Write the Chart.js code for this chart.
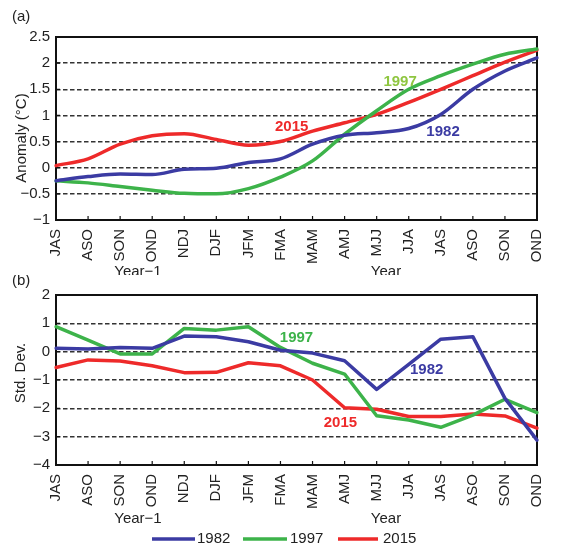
<!DOCTYPE html>
<html>
<head>
<meta charset="utf-8">
<script src="https://cdn.jsdelivr.net/npm/chart.js@4.4.1/dist/chart.umd.min.js"></script>
<style>
  html, body { margin: 0; padding: 0; background: #ffffff; }
  #wrap { position: relative; width: 564px; height: 548px; }
  #wrap canvas { position: absolute; left: 0; }
  #anom { top: 0; }
  #sdev { top: 275px; }
</style>
</head>
<body>
<div id="wrap">
  <canvas id="anom" width="564" height="275"></canvas>
  <canvas id="sdev" width="564" height="273"></canvas>
</div>
<script>
// Three-month running seasons, from the year before the event to the event year
const seasons = ['JAS', 'ASO', 'SON', 'OND', 'NDJ', 'DJF', 'JFM', 'FMA', 'MAM', 'AMJ', 'MJJ', 'JJA', 'JAS', 'ASO', 'SON', 'OND'];

// (a) Niño-3.4 SST anomaly (°C)
const anomaly1982 = [-0.25, -0.17, -0.12, -0.13, -0.03, -0.01, 0.10, 0.17, 0.45, 0.62, 0.67, 0.75, 1.02, 1.50, 1.85, 2.10];
const anomaly1997 = [-0.25, -0.29, -0.36, -0.43, -0.49, -0.50, -0.40, -0.18, 0.13, 0.64, 1.09, 1.50, 1.76, 1.98, 2.17, 2.27];
const anomaly2015 = [0.04, 0.17, 0.45, 0.61, 0.65, 0.54, 0.43, 0.50, 0.70, 0.86, 1.02, 1.25, 1.50, 1.76, 2.02, 2.25];

// (b) standardised index (Std. Dev.)
const std1982 = [0.12, 0.09, 0.15, 0.12, 0.55, 0.53, 0.35, 0.05, -0.05, -0.32, -1.33, -0.45, 0.44, 0.53, -1.65, -3.12];
const std1997 = [0.88, 0.41, -0.08, -0.08, 0.82, 0.76, 0.88, 0.15, -0.41, -0.79, -2.26, -2.41, -2.67, -2.24, -1.68, -2.15];
const std2015 = [-0.56, -0.29, -0.33, -0.50, -0.74, -0.73, -0.39, -0.50, -1.00, -1.98, -2.03, -2.29, -2.29, -2.20, -2.27, -2.70];

const years = ['1982', '1997', '2015'];

const BLUE = '#3b3ba3';
const GREEN = '#3db34a';
const RED = '#ee2a2a';
const LIME = '#8fc640';
const FONT = '"Liberation Sans", Arial, Helvetica, sans-serif';

function fmtTick(v) {
  return String(Number(v.toFixed(1))).replace('-', '\u2212');
}

function series(values, colors, smooth) {
  return values.map((vals, i) => ({
    label: years[i],
    data: vals,
    borderColor: colors[i],
    backgroundColor: colors[i],
    borderWidth: 3.5,
    pointRadius: 0,
    pointHoverRadius: 0,
    fill: false,
    borderJoinStyle: 'round',
    borderCapStyle: 'round',
    cubicInterpolationMode: smooth ? 'monotone' : 'default',
    tension: smooth ? 0.4 : 0
  }));
}

// Frame, inward tick marks, in-plot year labels, axis captions and legend
const panelDecor = {
  id: 'panelDecor',
  beforeDatasetsDraw(chart) {
    const { ctx, chartArea: a, scales } = chart;
    ctx.save();
    ctx.strokeStyle = '#111';
    ctx.lineWidth = 1.2;
    ctx.beginPath();
    scales.x.ticks.forEach((t, i) => {
      const x = scales.x.getPixelForTick(i);
      ctx.moveTo(x, a.bottom);
      ctx.lineTo(x, a.bottom - 4);
    });
    scales.y.ticks.forEach((t, i) => {
      const y = scales.y.getPixelForTick(i);
      ctx.moveTo(a.left, y);
      ctx.lineTo(a.left + 4, y);
    });
    ctx.stroke();
    ctx.lineWidth = 2;
    ctx.strokeRect(a.left, a.top, a.right - a.left, a.bottom - a.top);
    ctx.restore();
  },
  afterDraw(chart, args, opts) {
    const { ctx, scales } = chart;
    ctx.save();
    ctx.textAlign = 'center';
    ctx.textBaseline = 'middle';
    // year labels placed in data coordinates
    ctx.font = 'bold 15px ' + FONT;
    (opts.labels || []).forEach(l => {
      ctx.fillStyle = l.color;
      ctx.fillText(l.text, scales.x.getPixelForValue(l.at), scales.y.getPixelForValue(l.value));
    });
    ctx.fillStyle = '#222';
    ctx.font = '15px ' + FONT;
    // panel tag
    ctx.textAlign = 'left';
    ctx.fillText(opts.tag, 12, opts.tagY);
    // x captions under the two halves
    ctx.textAlign = 'center';
    ctx.fillText('Year\u22121', 138, opts.captionY);
    ctx.fillText('Year', 386, opts.captionY);
    // y-axis title
    ctx.save();
    ctx.translate(opts.yTitleX, opts.yTitleY);
    ctx.rotate(-Math.PI / 2);
    ctx.fillText(opts.yTitle, 0, 0);
    ctx.restore();
    // legend
    if (opts.legend) {
      const L = opts.legend;
      chart.data.datasets.forEach((ds, i) => {
        const [x0, x1, tx] = L.slots[i];
        ctx.strokeStyle = ds.borderColor;
        ctx.lineWidth = 3.5;
        ctx.beginPath();
        ctx.moveTo(x0, L.y);
        ctx.lineTo(x1, L.y);
        ctx.stroke();
        ctx.fillStyle = '#222';
        ctx.textAlign = 'left';
        ctx.fillText(ds.label, tx, L.y);
      });
    }
    ctx.restore();
  }
};

function makeOptions(yMin, yMax, step, xHeight, padTop, decor) {
  return {
    responsive: false,
    animation: false,
    events: [],
    layout: { padding: { left: 0, right: 6, top: padTop, bottom: 0 } },
    plugins: {
      legend: { display: false },
      tooltip: { enabled: false },
      panelDecor: decor
    },
    scales: {
      x: {
        type: 'category',
        offset: false,
        grid: { display: false, drawTicks: false },
        border: { display: false },
        ticks: {
          autoSkip: false,
          minRotation: 90,
          maxRotation: 90,
          padding: 9,
          color: '#222',
          font: { family: FONT, size: 15 }
        },
        afterFit(s) { s.height = xHeight; }
      },
      y: {
        min: yMin,
        max: yMax,
        grid: { color: '#333', lineWidth: 1.4, drawTicks: false },
        border: { display: false, dash: [4.5, 2.5] },
        ticks: {
          stepSize: step,
          padding: 6,
          color: '#222',
          font: { family: FONT, size: 15 },
          callback: v => fmtTick(v)
        },
        afterFit(s) { s.width = 56; }
      }
    }
  };
}

new Chart(document.getElementById('anom'), {
  type: 'line',
  data: {
    labels: seasons,
    datasets: series([anomaly1982, anomaly1997, anomaly2015], [BLUE, GREEN, RED], true)
  },
  options: makeOptions(-1, 2.5, 0.5, 55, 37, {
    tag: '(a)', tagY: 17, captionY: 272,
    yTitle: 'Anomaly (\u00b0C)', yTitleX: 22, yTitleY: 138,
    labels: [
      { text: '1997', at: 10.73, value: 1.64, color: LIME },
      { text: '2015', at: 7.35, value: 0.78, color: RED },
      { text: '1982', at: 12.07, value: 0.69, color: BLUE }
    ]
  }),
  plugins: [panelDecor]
});

new Chart(document.getElementById('sdev'), {
  type: 'line',
  data: {
    labels: seasons,
    datasets: series([std1982, std1997, std2015], [BLUE, GREEN, RED], false)
  },
  options: makeOptions(-4, 2, 1, 83, 20, {
    tag: '(b)', tagY: 6, captionY: 244,
    yTitle: 'Std. Dev.', yTitleX: 21, yTitleY: 98,
    labels: [
      { text: '1997', at: 7.5, value: 0.48, color: GREEN },
      { text: '1982', at: 11.56, value: -0.65, color: BLUE },
      { text: '2015', at: 8.87, value: -2.52, color: RED }
    ],
    legend: {
      y: 264,
      slots: [[152, 195, 197], [243, 287, 290], [338, 378, 383]]
    }
  }),
  plugins: [panelDecor]
});
</script>
</body>
</html>
